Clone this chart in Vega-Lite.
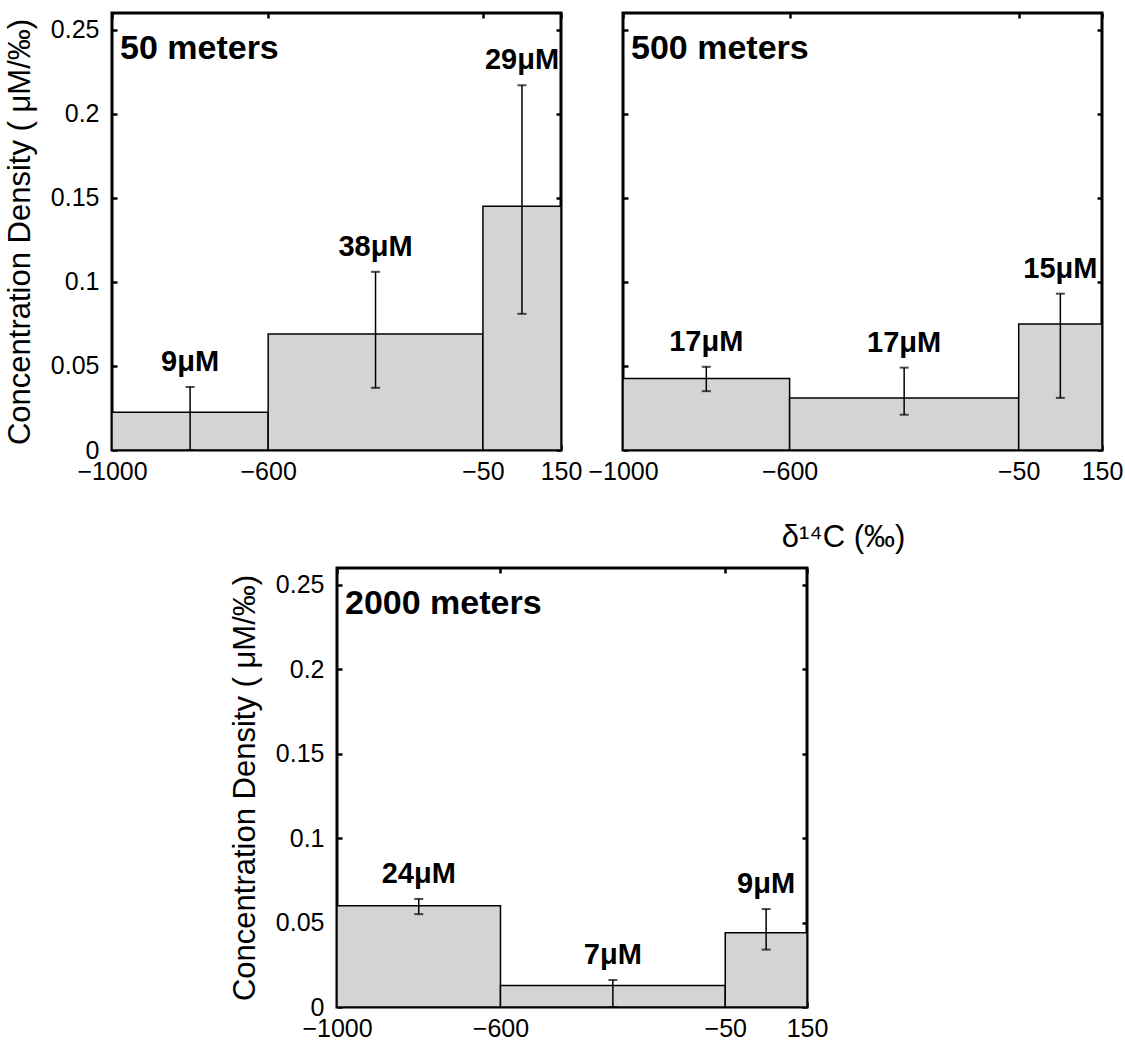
{
  "$schema": "https://vega.github.io/schema/vega-lite/v6.json",
  "padding": {"left": 2, "top": 10, "right": 0, "bottom": 5},
  "config": {
    "font": "Liberation Sans",
    "view": {"stroke": "black", "strokeWidth": 3},
    "axis": {"grid": false, "domain": false, "tickColor": "black", "tickWidth": 2.5, "tickSize": -5, "labelColor": "black", "labelFontSize": 25, "labelFont": "Liberation Sans", "labelPadding": 14, "labelFlush": false, "labelOverlap": false, "labelBound": false, "titleColor": "black", "titleFontWeight": "normal", "titleFont": "Liberation Sans", "titleFontSize": 31},
    "axisLeft": {"labelPadding": 18}
  },
  "datasets": {
    "p50": [
      {"lo": -1000, "hi": -600, "mid": -800, "dens": 0.0225, "elo": 0, "ehi": 0.0375, "label": "9μM"},
      {"lo": -600, "hi": -50, "mid": -325, "dens": 0.069, "elo": 0.037, "ehi": 0.106, "label": "38μM"},
      {"lo": -50, "hi": 150, "mid": 50, "dens": 0.145, "elo": 0.081, "ehi": 0.217, "label": "29μM"}
    ],
    "p500": [
      {"lo": -1000, "hi": -600, "mid": -800, "dens": 0.0425, "elo": 0.035, "ehi": 0.0495, "label": "17μM"},
      {"lo": -600, "hi": -50, "mid": -325, "dens": 0.031, "elo": 0.021, "ehi": 0.049, "label": "17μM"},
      {"lo": -50, "hi": 150, "mid": 50, "dens": 0.075, "elo": 0.031, "ehi": 0.093, "label": "15μM"}
    ],
    "p2000": [
      {"lo": -1000, "hi": -600, "mid": -800, "dens": 0.06, "elo": 0.055, "ehi": 0.064, "label": "24μM"},
      {"lo": -600, "hi": -50, "mid": -325, "dens": 0.0127, "elo": 0, "ehi": 0.016, "label": "7μM"},
      {"lo": -50, "hi": 150, "mid": 50, "dens": 0.044, "elo": 0.034, "ehi": 0.058, "label": "9μM"}
    ]
  },
  "spacing": 11,
  "vconcat": [
    {
      "bounds": "flush",
      "spacing": 62,
      "hconcat": [
        {
          "width": 449, "height": 437,
          "data": {"name": "p50"},
          "layer": [
            {"mark": {"type": "rect", "fill": "#d4d4d4", "stroke": "black", "strokeWidth": 1.5},
             "encoding": {
               "x": {"field": "lo", "type": "quantitative", "scale": {"domain": [-1000, 150], "nice": false, "zero": false}, "axis": {"orient": "bottom", "values": [-1000, -600, -50, 150], "format": "d", "title": null}},
               "x2": {"field": "hi"},
               "y": {"field": "dens", "type": "quantitative", "scale": {"domain": [0, 0.26], "nice": false}, "axis": {"orient": "left", "values": [0, 0.05, 0.1, 0.15, 0.2, 0.25], "format": "~g", "title": "Concentration Density ( μM/‰)", "titlePadding": 14}},
               "y2": {"datum": 0}
             }},
            {"mark": {"type": "rule", "strokeWidth": 1.5, "color": "black"},
             "encoding": {
               "x": {"field": "mid", "type": "quantitative", "axis": {"orient": "top", "values": [-1000, -600, -50, 150], "labels": false, "title": null}},
               "y": {"field": "elo", "type": "quantitative", "axis": {"orient": "right", "values": [0, 0.05, 0.1, 0.15, 0.2, 0.25], "labels": false, "title": null}},
               "y2": {"field": "ehi"}
             }},
            {"mark": {"type": "tick", "orient": "horizontal", "size": 9, "thickness": 2, "color": "black"},
             "encoding": {"x": {"field": "mid", "type": "quantitative", "axis": null}, "y": {"field": "elo", "type": "quantitative", "axis": null}}},
            {"mark": {"type": "tick", "orient": "horizontal", "size": 9, "thickness": 2, "color": "black"},
             "encoding": {"x": {"field": "mid", "type": "quantitative", "axis": null}, "y": {"field": "ehi", "type": "quantitative", "axis": null}}},
            {"mark": {"type": "text", "fontWeight": "bold", "fontSize": 29, "baseline": "alphabetic", "dy": -16, "color": "black"},
             "encoding": {"x": {"field": "mid", "type": "quantitative", "axis": null}, "y": {"field": "ehi", "type": "quantitative", "axis": null}, "text": {"field": "label"}}},
            {"data": {"values": [{"t": "50 meters"}]},
             "mark": {"type": "text", "fontWeight": "bold", "fontSize": 34, "align": "left", "baseline": "alphabetic", "dx": 8, "dy": 46, "color": "black"},
             "encoding": {"x": {"datum": -1000, "type": "quantitative", "axis": null}, "y": {"datum": 0.26, "type": "quantitative", "axis": null}, "text": {"field": "t"}}}
          ],
          "resolve": {"axis": {"x": "independent", "y": "independent"}}
        },
        {
          "width": 479, "height": 437,
          "data": {"name": "p500"},
          "layer": [
            {"mark": {"type": "rect", "fill": "#d4d4d4", "stroke": "black", "strokeWidth": 1.5},
             "encoding": {
               "x": {"field": "lo", "type": "quantitative", "scale": {"domain": [-1000, 150], "nice": false, "zero": false}, "axis": {"orient": "bottom", "values": [-1000, -600, -50, 150], "format": "d", "title": "δ¹⁴C (‰)", "titleFontSize": 31, "titlePadding": 38, "titleX": 220, "titleAlign": "center"}},
               "x2": {"field": "hi"},
               "y": {"field": "dens", "type": "quantitative", "scale": {"domain": [0, 0.26], "nice": false}, "axis": {"orient": "left", "values": [0, 0.05, 0.1, 0.15, 0.2, 0.25], "labels": false, "title": null}},
               "y2": {"datum": 0}
             }},
            {"mark": {"type": "rule", "strokeWidth": 1.5, "color": "black"},
             "encoding": {
               "x": {"field": "mid", "type": "quantitative", "axis": {"orient": "top", "values": [-1000, -600, -50, 150], "labels": false, "title": null}},
               "y": {"field": "elo", "type": "quantitative", "axis": {"orient": "right", "values": [0, 0.05, 0.1, 0.15, 0.2, 0.25], "labels": false, "title": null}},
               "y2": {"field": "ehi"}
             }},
            {"mark": {"type": "tick", "orient": "horizontal", "size": 9, "thickness": 2, "color": "black"},
             "encoding": {"x": {"field": "mid", "type": "quantitative", "axis": null}, "y": {"field": "elo", "type": "quantitative", "axis": null}}},
            {"mark": {"type": "tick", "orient": "horizontal", "size": 9, "thickness": 2, "color": "black"},
             "encoding": {"x": {"field": "mid", "type": "quantitative", "axis": null}, "y": {"field": "ehi", "type": "quantitative", "axis": null}}},
            {"mark": {"type": "text", "fontWeight": "bold", "fontSize": 29, "baseline": "alphabetic", "dy": -16, "color": "black"},
             "encoding": {"x": {"field": "mid", "type": "quantitative", "axis": null}, "y": {"field": "ehi", "type": "quantitative", "axis": null}, "text": {"field": "label"}}},
            {"data": {"values": [{"t": "500 meters"}]},
             "mark": {"type": "text", "fontWeight": "bold", "fontSize": 34, "align": "left", "baseline": "alphabetic", "dx": 8, "dy": 46, "color": "black"},
             "encoding": {"x": {"datum": -1000, "type": "quantitative", "axis": null}, "y": {"datum": 0.26, "type": "quantitative", "axis": null}, "text": {"field": "t"}}}
          ],
          "resolve": {"axis": {"x": "independent", "y": "independent"}}
        }
      ]
    },
    {
      "bounds": "flush",
      "spacing": 0,
      "hconcat": [
        {
          "width": 225, "height": 10,
          "view": {"stroke": null},
          "data": {"values": [{"a": 1}]},
          "mark": {"type": "point", "opacity": 0},
          "encoding": {}
        },
        {
          "width": 470, "height": 439,
          "data": {"name": "p2000"},
          "layer": [
            {"mark": {"type": "rect", "fill": "#d4d4d4", "stroke": "black", "strokeWidth": 1.5},
             "encoding": {
               "x": {"field": "lo", "type": "quantitative", "scale": {"domain": [-1000, 150], "nice": false, "zero": false}, "axis": {"orient": "bottom", "values": [-1000, -600, -50, 150], "format": "d", "title": null}},
               "x2": {"field": "hi"},
               "y": {"field": "dens", "type": "quantitative", "scale": {"domain": [0, 0.26], "nice": false}, "axis": {"orient": "left", "values": [0, 0.05, 0.1, 0.15, 0.2, 0.25], "format": "~g", "title": "Concentration Density ( μM/‰)", "titlePadding": 14}},
               "y2": {"datum": 0}
             }},
            {"mark": {"type": "rule", "strokeWidth": 1.5, "color": "black"},
             "encoding": {
               "x": {"field": "mid", "type": "quantitative", "axis": {"orient": "top", "values": [-1000, -600, -50, 150], "labels": false, "title": null}},
               "y": {"field": "elo", "type": "quantitative", "axis": {"orient": "right", "values": [0, 0.05, 0.1, 0.15, 0.2, 0.25], "labels": false, "title": null}},
               "y2": {"field": "ehi"}
             }},
            {"mark": {"type": "tick", "orient": "horizontal", "size": 9, "thickness": 2, "color": "black"},
             "encoding": {"x": {"field": "mid", "type": "quantitative", "axis": null}, "y": {"field": "elo", "type": "quantitative", "axis": null}}},
            {"mark": {"type": "tick", "orient": "horizontal", "size": 9, "thickness": 2, "color": "black"},
             "encoding": {"x": {"field": "mid", "type": "quantitative", "axis": null}, "y": {"field": "ehi", "type": "quantitative", "axis": null}}},
            {"mark": {"type": "text", "fontWeight": "bold", "fontSize": 29, "baseline": "alphabetic", "dy": -16, "color": "black"},
             "encoding": {"x": {"field": "mid", "type": "quantitative", "axis": null}, "y": {"field": "ehi", "type": "quantitative", "axis": null}, "text": {"field": "label"}}},
            {"data": {"values": [{"t": "2000 meters"}]},
             "mark": {"type": "text", "fontWeight": "bold", "fontSize": 34, "align": "left", "baseline": "alphabetic", "dx": 8, "dy": 46, "color": "black"},
             "encoding": {"x": {"datum": -1000, "type": "quantitative", "axis": null}, "y": {"datum": 0.26, "type": "quantitative", "axis": null}, "text": {"field": "t"}}}
          ],
          "resolve": {"axis": {"x": "independent", "y": "independent"}}
        }
      ]
    }
  ]
}
